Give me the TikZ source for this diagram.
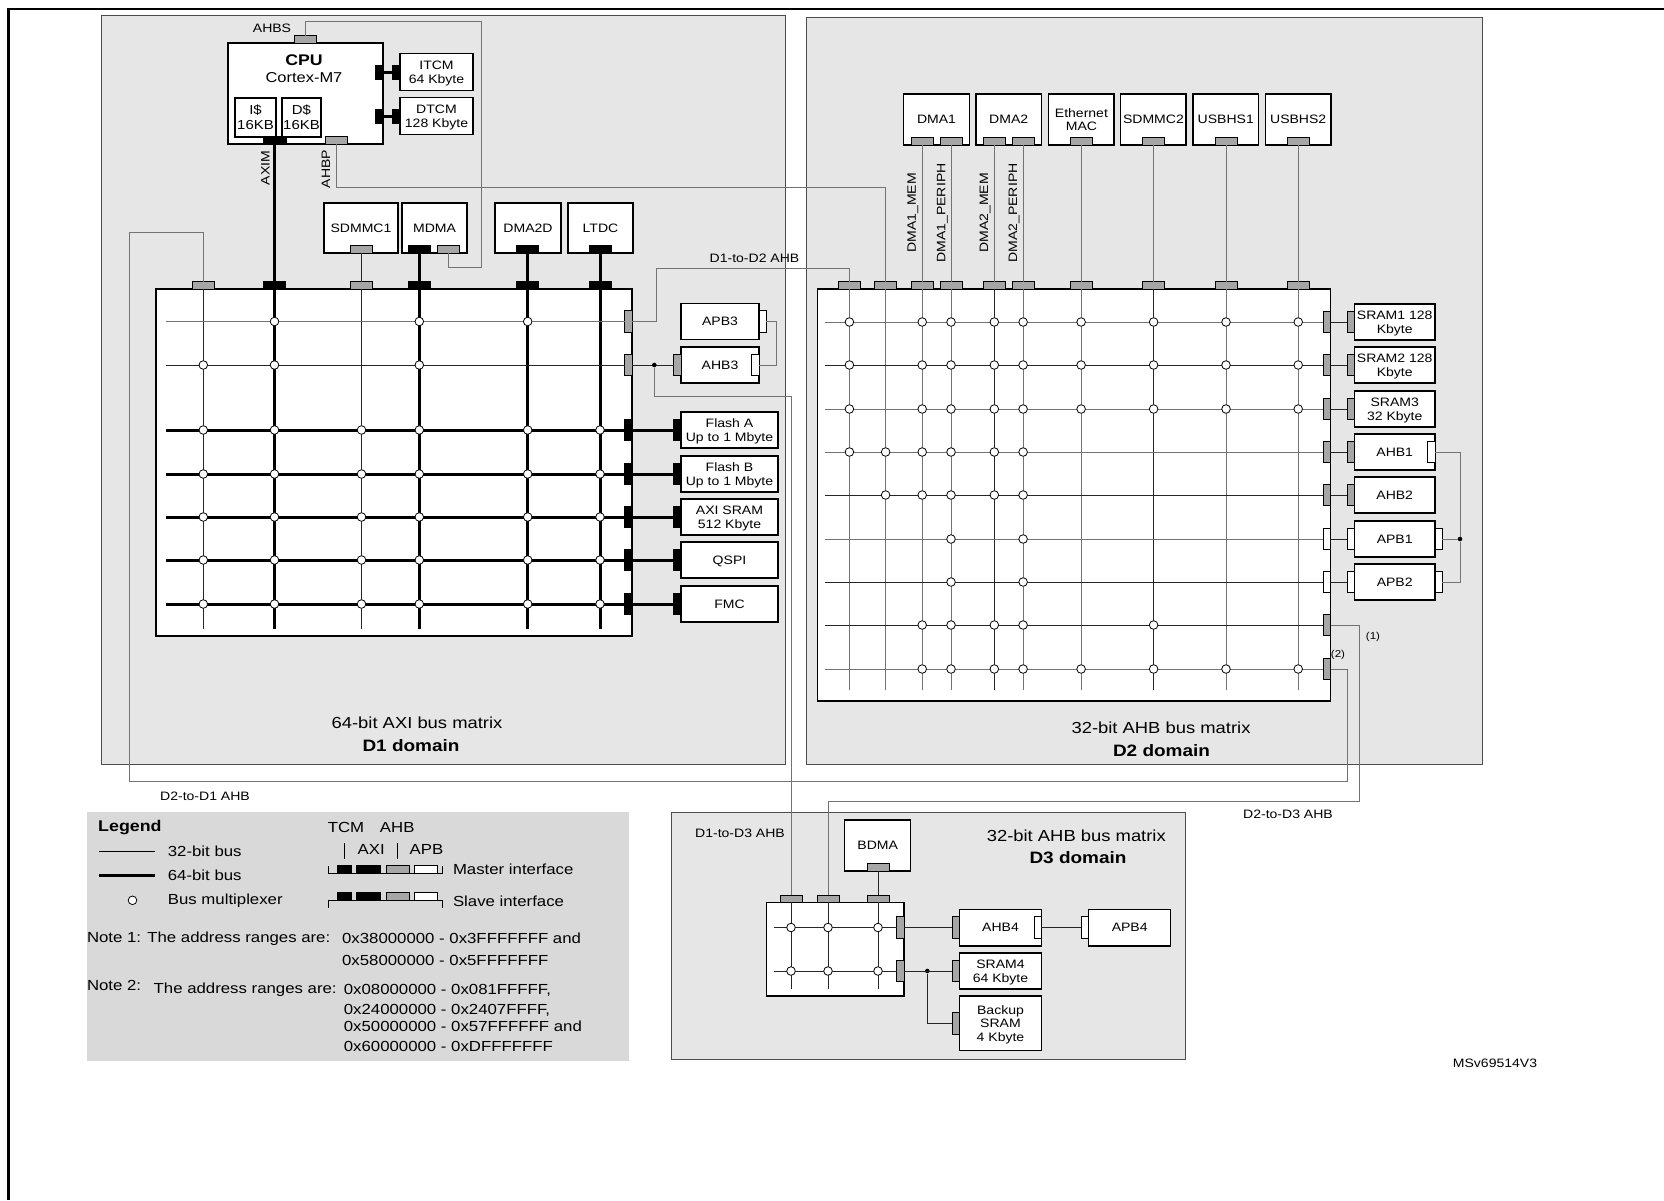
\documentclass[tikz,border=0pt]{standalone}
\usepackage{fontspec}
\setmainfont[FakeStretch=1.15]{Liberation Sans}
\usetikzlibrary{positioning}

\definecolor{domgray}{HTML}{E6E6E6}
\definecolor{leggray}{HTML}{D9D9D9}
\definecolor{ahbgray}{HTML}{A6A6A6}

\tikzset{
  lbl/.style={inner sep=0pt, font=\fontsize{12.2}{14.5}\selectfont},
  blk/.style={lbl, draw, line width=1.4pt, fill=white, outer sep=0pt, align=center, text depth=-0.6pt},
  dombox/.style={draw=black!70, line width=1pt, fill=domgray},
  mtab/.style={draw, line width=0.8pt, outer sep=0pt, inner sep=0pt, minimum width=22pt, minimum height=7.3pt},
  stab/.style={draw, line width=0.8pt, outer sep=0pt, inner sep=0pt, minimum width=7.3pt, minimum height=21.7pt},
  mux/.style={circle, draw, line width=0.8pt, fill=white, inner sep=0pt, minimum size=8.6pt},
  jdot/.style={circle, fill=black, inner sep=0pt, minimum size=4.6pt},
  bus/.style={line width=1pt, draw=black!85},
  busg/.style={line width=1pt, draw=black!55},
  wide/.style={line width=3pt, draw=black},
  title/.style={inner sep=0pt, font=\fontsize{16}{18}\selectfont},
  dname/.style={inner sep=0pt, font=\bfseries\fontsize{16.5}{18}\selectfont},
  lgtxt/.style={inner sep=0pt, anchor=west, font=\fontsize{14.6}{16}\selectfont}
}

\begin{document}
\begin{tikzpicture}[x=1pt, y=-1pt]
\useasboundingbox (0,0) rectangle (1664,1200);
\draw[line width=2.5pt] (8.5,1200) |- (1664,9);
\draw[dombox] (101,15) rectangle (785,764);
\draw[dombox] (806,17) rectangle (1482,764);
\draw[dombox] (671,812) rectangle (1185,1059);
\fill[leggray] (87,812) rectangle (629,1061);

% D1 domain
\node[blk, minimum width=155pt, minimum height=101pt] (cpu) at (305.5,93.5) {};
\node[lbl, font=\bfseries\fontsize{15.4}{17}\selectfont] (cpuname) at (304,60) {CPU};
\node[lbl, font=\fontsize{14.3}{16}\selectfont] (cpucore) at (304,78) {Cortex-M7};
\node[blk, minimum width=41pt, minimum height=39pt, font=\fontsize{13}{15}\selectfont] (icache) at (255.5,117.5) {I\$\\16KB};
\node[blk, minimum width=39pt, minimum height=39pt, font=\fontsize{13}{15}\selectfont] (dcache) at (301.5,117.5) {D\$\\16KB};
\node[mtab, fill=ahbgray] (ahbs) at (305,39.5) {};
\node[mtab, fill=black, minimum width=23pt] (axim) at (274.5,140.5) {};
\node[mtab, fill=ahbgray] (ahbp) at (336,140.5) {};
\node[lbl] (ahbslbl) at (272,28) {AHBS};
\node[lbl, rotate=90] (aximlbl) at (265.5,168) {AXIM};
\node[lbl, rotate=90] (ahbplbl) at (326,169) {AHBP};
\node[blk, minimum width=73pt, minimum height=37pt] (itcm) at (436.5,72) {ITCM\\64 Kbyte};
\node[blk, minimum width=73pt, minimum height=37pt] (dtcm) at (436.5,116) {DTCM\\128 Kbyte};
\node[stab, fill=black, minimum height=14pt] (itcmM) at (379.5,72) {};
\node[stab, fill=black, minimum height=14pt] (dtcmM) at (379.5,116) {};
\node[stab, fill=black, minimum height=14pt, left=0pt of itcm] (itcmS) {};
\node[stab, fill=black, minimum height=14pt, left=0pt of dtcm] (dtcmS) {};
\draw[wide] (itcmM) -- (itcmS);
\draw[wide] (dtcmM) -- (dtcmS);

\node[blk, minimum width=74pt, minimum height=50pt] (sdmmca) at (361,228) {SDMMC1};
\node[blk, minimum width=65pt, minimum height=50pt] (mdma) at (434.5,228) {MDMA};
\node[blk, minimum width=66pt, minimum height=50pt] (dmatwod) at (528,228) {DMA2D};
\node[blk, minimum width=65pt, minimum height=50pt] (ltdc) at (600.5,228) {LTDC};
\node[mtab, fill=ahbgray] (sdmmcaM) at (361.5,249.5) {};
\node[mtab, fill=black] (mdmaM) at (419.3,249.5) {};
\node[mtab, fill=ahbgray] (mdmaG) at (448,249.5) {};
\node[mtab, fill=black] (dmatwodM) at (527.7,249.5) {};
\node[mtab, fill=black] (ltdcM) at (600,249.5) {};

\node[blk, minimum width=476pt, minimum height=347pt] (axi) at (394,462.5) {};
\foreach \x/\n/\w/\f in {203.3/a/bus/ahbgray, 274.5/b/wide/black, 361.5/c/bus/ahbgray, 419.3/d/wide/black, 527.7/e/wide/black, 600/f/wide/black} {
  \node[mtab, fill=\f] (axiT\n) at (\x,285.5) {};
  \coordinate (axiB\n) at (\x,628.7);
  \draw[\w] (axiT\n) -- (axiB\n);
}
\foreach \y/\n/\w/\f in {321.5/1/busg/ahbgray, 365/2/bus/ahbgray, 430/3/wide/black, 474/4/wide/black, 517/5/wide/black, 560/6/wide/black, 604/7/wide/black} {
  \node[stab, fill=\f] (axiS\n) at (628.5,\y) {};
  \coordinate (axiL\n) at (166.3,\y);
  \draw[\w] (axiL\n) -- (axiS\n);
}
\foreach \r/\cols in {1/{b,d,e}, 2/{a,b,d}, 3/{a,b,c,d,e,f}, 4/{a,b,c,d,e,f}, 5/{a,b,c,d,e,f}, 6/{a,b,c,d,e,f}, 7/{a,b,c,d,e,f}}
  \foreach \c in \cols
    \node[mux] (axiM\r\c) at (axiB\c |- axiL\r) {};

\draw[wide] (axim) -- (axiTb);
\draw[bus] (sdmmcaM) -- (axiTc);
\draw[wide] (mdmaM) -- (axiTd);
\draw[wide] (dmatwodM) -- (axiTe);
\draw[wide] (ltdcM) -- (axiTf);

\node[blk, minimum width=78pt, minimum height=36pt] (apbc) at (720,321.5) {APB3};
\node[stab, fill=white, right=0pt of apbc] (apbcS) {};
\node[blk, minimum width=78pt, minimum height=36pt] (ahbc) at (720,365) {AHB3};
\node[stab, fill=ahbgray, left=0pt of ahbc] (ahbcS) {};
\node[stab, fill=white, anchor=east] (ahbcM) at (ahbc.east) {};
\foreach \y/\r/\n/\t in {430/3/fla/{Flash A\\Up to 1 Mbyte}, 474/4/flb/{Flash B\\Up to 1 Mbyte}, 517/5/axisram/{AXI SRAM\\512 Kbyte}, 560/6/qspi/QSPI, 604/7/fmc/FMC} {
  \node[blk, minimum width=97pt, minimum height=36pt] (\n) at (729.5,\y) {\t};
  \node[stab, fill=black, left=0pt of \n] (s\n) {};
  \draw[wide] (axiS\r) -- (s\n);
}
\draw[bus] (axiS2) -- (ahbcS);
\node[jdot] (dotc) at (654.3,365) {};
\coordinate (brc) at (776.7,321.5);
\draw[busg] (ahbcM) -| (brc) -- (apbcS);

\node[title] (axititle) at (417,722.7) {64-bit AXI bus matrix};
\node[dname] (donename) at (411,746) {D1 domain};

% D2 domain
\foreach \x/\n/\t in {936.5/dmaa/DMA1, 1008.7/dmab/DMA2, 1081.4/eth/{Ethernet\\MAC}, 1153.4/sdmmcb/SDMMC2, 1225.8/usba/USBHS1, 1298.2/usbb/USBHS2}
  \node[blk, minimum width=65.5pt, minimum height=51pt, font=\fontsize{12.2}{13.3}\selectfont] (\n) at (\x,119.5) {\t};
\foreach \x/\n in {922.2/1, 951/2, 994.3/3, 1023.1/4, 1081.1/5, 1153.6/6, 1226/7, 1298.2/8}
  \node[mtab, fill=ahbgray] (mstT\n) at (\x,141.5) {};
\node[lbl, rotate=90] (dmaamem) at (913,213) {DMA1\_MEM};
\node[lbl, rotate=90] (dmaaper) at (942.5,213) {DMA1\_PERIPH};
\node[lbl, rotate=90] (dmabmem) at (985,213) {DMA2\_MEM};
\node[lbl, rotate=90] (dmabper) at (1014,213) {DMA2\_PERIPH};

\node[blk, minimum width=513.2pt, minimum height=412pt] (ahb) at (1074.1,495) {};
\foreach \x/\n/\w in {849.4/1/busg, 885.6/2/busg, 922.2/3/busg, 951/4/busg, 994.3/5/bus, 1023.1/6/busg, 1081.1/7/busg, 1153.6/8/bus, 1226/9/busg, 1298.2/10/busg} {
  \node[mtab, fill=ahbgray] (ahbT\n) at (\x,285.5) {};
  \coordinate (ahbB\n) at (\x,689.7);
  \draw[\w] (ahbT\n) -- (ahbB\n);
}
\foreach \y/\n/\w/\f in {322/1/busg/ahbgray, 365/2/bus/ahbgray, 409/3/busg/ahbgray, 452/4/busg/ahbgray, 495/5/bus/ahbgray, 539/6/busg/white, 582/7/bus/white, 625/8/bus/ahbgray, 669/9/busg/ahbgray} {
  \node[stab, fill=\f] (ahbS\n) at (1327,\y) {};
  \coordinate (ahbL\n) at (824.6,\y);
  \draw[\w] (ahbL\n) -- (ahbS\n);
}
\foreach \r/\cols in {1/{1,3,4,5,6,7,8,9,10}, 2/{1,3,4,5,6,7,8,9,10}, 3/{1,3,4,5,6,7,8,9,10}, 4/{1,2,3,4,5,6}, 5/{2,3,4,5,6}, 6/{4,6}, 7/{4,6}, 8/{3,4,5,6,8}, 9/{3,4,5,6,7,8,9,10}}
  \foreach \c in \cols
    \node[mux] (ahbM\r-\c) at (ahbB\c |- ahbL\r) {};
\foreach \a/\b in {1/3, 2/4, 3/5, 4/6, 5/7, 6/8, 7/9, 8/10}
  \draw[busg] (mstT\a) -- (ahbT\b);

\foreach \y/\r/\n/\f/\t in {322/1/srama/ahbgray/{SRAM1 128\\Kbyte}, 365/2/sramb/ahbgray/{SRAM2 128\\Kbyte}, 409/3/sramc/ahbgray/{SRAM3\\32 Kbyte}, 452/4/ahba/ahbgray/AHB1, 495/5/ahbb/ahbgray/AHB2, 539/6/apba/white/APB1, 582/7/apbb/white/APB2} {
  \node[blk, minimum width=80.7pt, minimum height=36pt] (\n) at (1394.7,\y) {\t};
  \node[stab, fill=\f, left=0pt of \n] (s\n) {};
  \draw[bus] (ahbS\r) -- (s\n);
}
\node[stab, fill=white, anchor=east] (ahbaM) at (ahba.east) {};
\node[stab, fill=white, right=0pt of apba] (apbaR) {};
\node[stab, fill=white, right=0pt of apbb] (apbbR) {};
\node[jdot] (dotb) at (1460,539) {};
\draw[busg] (ahbaM) -| (dotb) |- (apbbR);
\draw[busg] (apbaR) -- (dotb);
\node[lbl, font=\fontsize{10}{12}\selectfont] (fnone) at (1373,637) {(1)};
\node[lbl, font=\fontsize{10}{12}\selectfont] (fntwo) at (1338,655) {(2)};

\node[title] (ahbtitle) at (1161,728) {32-bit AHB bus matrix};
\node[dname] (dtwoname) at (1161.5,750.3) {D2 domain};

% D3 domain
\node[blk, minimum width=66pt, minimum height=51pt] (bdma) at (877.7,845.5) {BDMA};
\node[mtab, fill=ahbgray] (bdmaM) at (878,867.3) {};
\node[blk, minimum width=137.7pt, minimum height=93.3pt] (ahbd) at (835.2,949.4) {};
\foreach \x/\n in {791/1, 828/2, 878/3} {
  \node[mtab, fill=ahbgray] (ahbdT\n) at (\x,898.8) {};
  \coordinate (ahbdB\n) at (\x,988.7);
  \draw[bus] (ahbdT\n) -- (ahbdB\n);
}
\foreach \y/\n in {927.5/1, 971/2} {
  \node[stab, fill=ahbgray] (ahbdS\n) at (900.3,\y) {};
  \coordinate (ahbdL\n) at (774,\y);
  \draw[bus] (ahbdL\n) -- (ahbdS\n);
}
\foreach \r in {1,2}
  \foreach \c in {1,2,3}
    \node[mux] (ahbdM\r\c) at (ahbdB\c |- ahbdL\r) {};
\draw[bus] (bdmaM) -- (ahbdT3);
\node[blk, minimum width=81.6pt, minimum height=36.6pt] (ahbfour) at (1000.5,927.5) {AHB4};
\node[stab, fill=ahbgray, left=0pt of ahbfour] (sahbfour) {};
\node[stab, fill=white, anchor=east] (ahbfourM) at (ahbfour.east) {};
\node[blk, minimum width=82pt, minimum height=36.6pt] (apbfour) at (1129.7,927.5) {APB4};
\node[stab, fill=white, left=0pt of apbfour] (sapbfour) {};
\node[blk, minimum width=81.6pt, minimum height=36pt] (sramd) at (1000.5,971) {SRAM4\\64 Kbyte};
\node[stab, fill=ahbgray, left=0pt of sramd] (ssramd) {};
\node[blk, minimum width=81.6pt, minimum height=54.3pt, font=\fontsize{12.2}{13.5}\selectfont] (bkp) at (1000.5,1023.2) {Backup\\SRAM\\4 Kbyte};
\node[stab, fill=ahbgray, left=0pt of bkp] (sbkp) {};
\node[jdot] (dotd) at (927.3,971) {};
\draw[bus] (ahbdS1) -- (sahbfour);
\draw[bus] (ahbfourM) -- (sapbfour);
\draw[bus] (ahbdS2) -- (ssramd);
\draw[bus] (dotd) |- (sbkp);
\node[title] (ahbdtitle) at (1076.3,836) {32-bit AHB bus matrix};
\node[dname] (dthreename) at (1078,857.7) {D3 domain};

% inter-domain buses
\coordinate (ahbsA) at (481,21.7);
\coordinate (ahbsB) at (481,267);
\draw[busg] (ahbs) |- (ahbsA) -- (ahbsB) -| (mdmaG);
\coordinate (ahbpA) at (336,187.7);
\draw[busg] (ahbp) -- (ahbpA) -| (ahbT2);
\coordinate (dd12) at (656.7,268.3);
\draw[busg] (axiS1) -| (dd12) -| (ahbT1);
\coordinate (dd13) at (791,396.3);
\draw[busg] (dotc) |- (dd13) -- (ahbdT1);
\coordinate (dd21a) at (1347,781);
\coordinate (dd21b) at (129.5,232.7);
\draw[busg] (ahbS9) -| (dd21a) -| (dd21b) -| (axiTa);
\coordinate (dd23) at (1359,801);
\draw[busg] (ahbS8) -| (dd23) -| (ahbdT2);
\node[lbl] (ddlbla) at (754.5,258) {D1-to-D2 AHB};
\node[lbl] (ddlblb) at (205,796) {D2-to-D1 AHB};
\node[lbl] (ddlblc) at (1288,814) {D2-to-D3 AHB};
\node[lbl] (ddlbld) at (740,833) {D1-to-D3 AHB};

% legend
\node[lgtxt, font=\bfseries\fontsize{15.5}{17}\selectfont] (legend) at (98,828) {Legend};
\coordinate (lgaa) at (99,851.7);
\coordinate (lgab) at (155.4,851.7);
\draw[line width=1pt] (lgaa) -- (lgab);
\node[lgtxt] (lgthin) at (167.7,851.7) {32-bit bus};
\coordinate (lgba) at (99,875.3);
\coordinate (lgbb) at (155.4,875.3);
\draw[line width=3pt] (lgba) -- (lgbb);
\node[lgtxt] (lgthick) at (167.7,875.3) {64-bit bus};
\node[mux] (lgmux) at (132.5,900.3) {};
\node[lgtxt] (lgmuxt) at (167.7,900.3) {Bus multiplexer};
\node[lgtxt, anchor=center] (lgtcm) at (346,827.7) {TCM};
\node[lgtxt, anchor=center] (lgahb) at (397.2,827.7) {AHB};
\node[lgtxt, anchor=center] (lgaxi) at (371.2,849.3) {AXI};
\node[lgtxt, anchor=center] (lgapb) at (426.4,849.3) {APB};
\draw[line width=1pt] (344.4,843) -- (344.4,859);
\draw[line width=1pt] (397.6,843) -- (397.6,859);
\draw[line width=1pt] (328,866) |- (442,873.7) -- (442,866);
\draw[line width=1pt] (328,907.7) |- (442,900.3) -- (442,907.7);
\foreach \y/\m in {869.5/m, 896.5/s} {
  \node[mtab, fill=black, minimum width=14pt, minimum height=8.4pt] (lg\m1) at (344.7,\y) {};
  \node[mtab, fill=black, minimum width=24pt, minimum height=8.4pt] (lg\m2) at (368,\y) {};
  \node[mtab, fill=ahbgray, minimum width=23pt, minimum height=8.4pt] (lg\m3) at (397.5,\y) {};
  \node[mtab, fill=white, minimum width=23pt, minimum height=8.4pt] (lg\m4) at (425.5,\y) {};
}
\node[lgtxt] (lgmst) at (452.8,869.3) {Master interface};
\node[lgtxt] (lgslv) at (452.8,901.7) {Slave interface};
\node[lgtxt] (noteone) at (86.8,938.7) {Note 1: The address ranges are:};
\node[lgtxt] (noteonea) at (341.9,938.7) {0x38000000 - 0x3FFFFFFF and};
\node[lgtxt] (noteoneb) at (341.9,960.3) {0x58000000 - 0x5FFFFFFF};
\node[lgtxt] (notetwo) at (86.8,985.3) {Note 2:};
\node[lgtxt] (notetwot) at (153.5,990) {The address ranges are:};
\node[lgtxt] (notetwoa) at (343.7,990) {0x08000000 - 0x081FFFFF,};
\node[lgtxt] (notetwob) at (343.7,1010) {0x24000000 - 0x2407FFFF,};
\node[lgtxt] (notetwoc) at (343.7,1026.7) {0x50000000 - 0x57FFFFFF and};
\node[lgtxt] (notetwod) at (343.7,1046) {0x60000000 - 0xDFFFFFFF};

\node[lbl] (docid) at (1495,1063) {MSv69514V3};
\end{tikzpicture}
\end{document}
